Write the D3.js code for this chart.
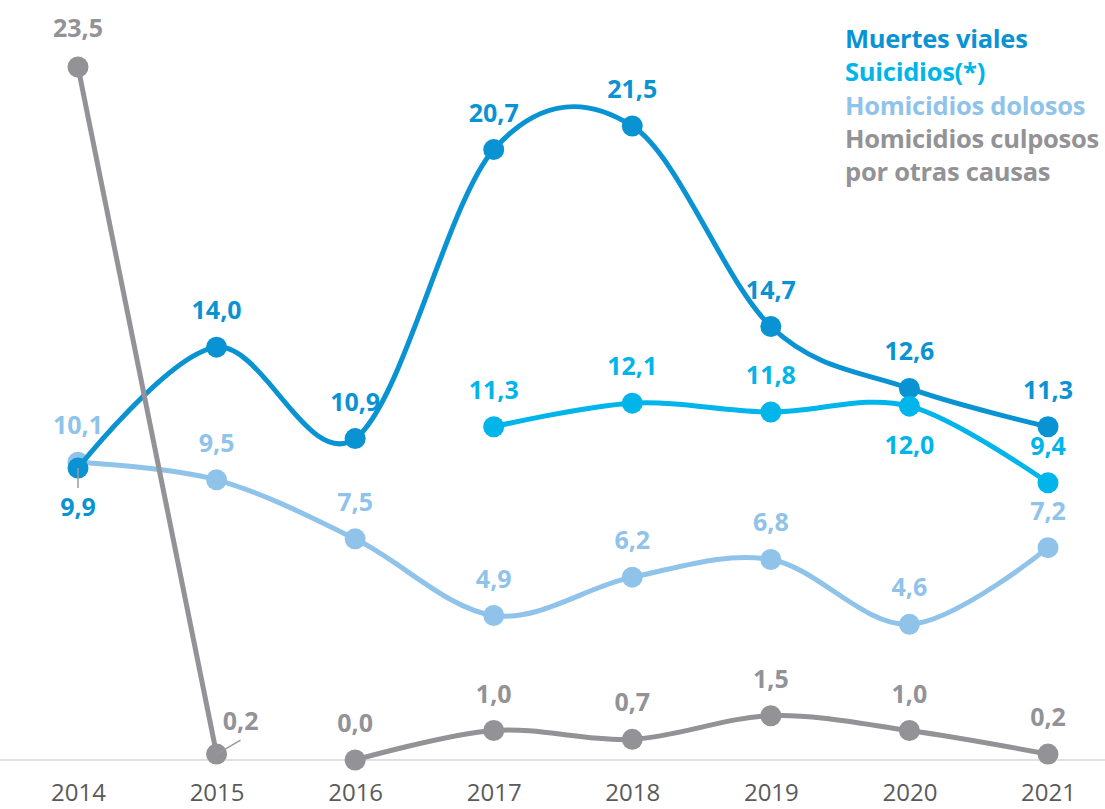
<!DOCTYPE html>
<html>
<head>
<meta charset="utf-8">
<script src="https://cdn.jsdelivr.net/npm/d3@7"></script>
<style>
  body { margin: 0; background: #fff; }
  svg { display: block; font-family: "Open Sans", "Noto Sans", sans-serif; }
  .value { font-weight: 700; font-size: 25px; text-anchor: middle; }
  .legend { font-weight: 700; font-size: 25.5px; letter-spacing: -0.25px; }
  .year text { font-size: 24px; fill: #5a5a5a; }
</style>
</head>
<body>
<svg width="1105" height="809"></svg>
<script>
const years = ["2014", "2015", "2016", "2017", "2018", "2019", "2020", "2021"];

const muertesViales = [9.9, 14.0, 10.9, 20.7, 21.5, 14.7, 12.6, 11.3];
const suicidios = [null, null, null, 11.3, 12.1, 11.8, 12.0, 9.4];
const homicidiosDolosos = [10.1, 9.5, 7.5, 4.9, 6.2, 6.8, 4.6, 7.2];
const homicidiosCulposos = [23.5, 0.2, 0.0, 1.0, 0.7, 1.5, 1.0, 0.2];

const legendLabels = ["Muertes viales", "Suicidios(*)", "Homicidios dolosos", "Homicidios culposos", "por otras causas"];

const svg = d3.select('svg');
const width = 1105;

const colors = {
  muertes: '#0a93d3',
  suicidios: '#00b5ea',
  dolosos: '#8fc3ea',
  culposos: '#929297'
};

const xScale = d3.scalePoint()
  .domain(years)
  .range([78, 1048]);

const yScale = d3.scaleLinear()
  .domain([0, 23.5])
  .range([760, 67]);

// base line across the whole width
svg.append('line')
  .attr('x1', 0).attr('x2', width)
  .attr('y1', yScale(0)).attr('y2', yScale(0))
  .attr('stroke', '#d6d6d6')
  .attr('stroke-width', 1.5);

svg.append('g')
  .attr('class', 'year')
  .attr('transform', `translate(0, ${yScale(0) + 24})`)
  .call(d3.axisBottom(xScale).tickSize(0).tickPadding(0))
  .call(g => g.select('.domain').remove())
  .selectAll('text')
  .attr('dy', '0.71em')
  .attr('font-family', '"Open Sans", sans-serif');

const line = d3.line()
  .defined(d => d.v !== null)
  .x(d => xScale(d.year))
  .y(d => yScale(d.v))
  .curve(d3.curveCatmullRom.alpha(0));

const toPoints = (values) => values.map((v, i) => ({ year: years[i], v: v }));

// special label placements (everything else sits above the dot)
const below = { 'muertes-2014': true, 'suicidios-2020': true };

function drawSeries(key, values, segments) {
  const pts = toPoints(values);
  const color = colors[key];
  const g = svg.append('g');

  segments.forEach(seg => {
    g.append('path')
      .datum(pts.slice(seg[0], seg[1]))
      .attr('fill', 'none')
      .attr('stroke', color)
      .attr('stroke-width', 5)
      .attr('stroke-linejoin', 'round')
      .attr('d', line);
  });

  return { g, pts, color, key };
}

function drawDots(s) {
  s.g.selectAll('circle')
    .data(s.pts.filter(d => d.v !== null))
    .enter()
    .append('circle')
    .attr('cx', d => xScale(d.year))
    .attr('cy', d => yScale(d.v))
    .attr('r', 10.5)
    .attr('fill', s.color);
}

function drawLabels(s) {
  s.g.selectAll('text.value')
    .data(s.pts.filter(d => d.v !== null))
    .enter()
    .append('text')
    .attr('class', 'value')
    .attr('fill', s.color)
    .attr('x', d => xScale(d.year))
    .attr('y', d => below[s.key + '-' + d.year] ? yScale(d.v) + 48 : yScale(d.v) - 28)
    .text(d => d3.format('.1f')(d.v).replace('.', ','));
}

const sDolosos = drawSeries('dolosos', homicidiosDolosos, [[0, 8]]);
drawDots(sDolosos);
const sMuertes = drawSeries('muertes', muertesViales, [[0, 8]]);
drawDots(sMuertes);
const sSuicidios = drawSeries('suicidios', suicidios, [[3, 8]]);
drawDots(sSuicidios);
const sCulposos = drawSeries('culposos', homicidiosCulposos, [[0, 2], [2, 8]]);
drawDots(sCulposos);

// leader lines
svg.append('line')
  .attr('x1', xScale('2014')).attr('x2', xScale('2014'))
  .attr('y1', yScale(muertesViales[0])).attr('y2', yScale(muertesViales[0]) + 20)
  .attr('stroke', '#9a9a9a').attr('stroke-width', 1.5);

svg.append('line')
  .attr('x1', xScale('2015')).attr('x2', xScale('2015') + 24)
  .attr('y1', yScale(homicidiosCulposos[1])).attr('y2', yScale(homicidiosCulposos[1]) - 14)
  .attr('stroke', '#9a9a9a').attr('stroke-width', 1.5);

[sDolosos, sMuertes, sSuicidios].forEach(drawLabels);

// gray labels: 2015 sits to the right of its dot
sCulposos.g.selectAll('text.value')
  .data(sCulposos.pts)
  .enter()
  .append('text')
  .attr('class', 'value')
  .attr('fill', sCulposos.color)
  .attr('x', d => d.year === '2015' ? xScale(d.year) + 24 : xScale(d.year))
  .attr('y', d => d.year === '2015' ? yScale(d.v) - 24 : (d.year === '2014' ? yScale(d.v) - 30 : yScale(d.v) - 28))
  .text(d => d3.format('.1f')(d.v).replace('.', ','));

// legend
const legendColors = [colors.muertes, colors.suicidios, colors.dolosos, colors.culposos, colors.culposos];
svg.append('g')
  .selectAll('text')
  .data(legendLabels)
  .enter()
  .append('text')
  .attr('class', 'legend')
  .attr('x', 845)
  .attr('y', (d, i) => 48 + i * 33.3)
  .attr('fill', (d, i) => legendColors[i])
  .text(d => d);
</script>
</body>
</html>
